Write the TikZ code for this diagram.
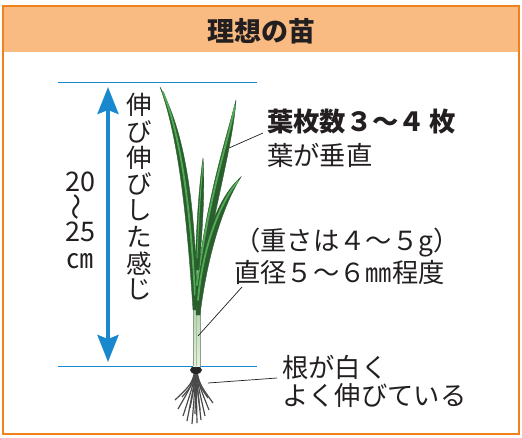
\documentclass[tikz,border=0pt]{standalone}
\usepackage{fontspec}
\newfontfamily\jp{Noto Sans CJK JP}
\usetikzlibrary{arrows.meta}
\definecolor{frameor}{HTML}{F0821E}
\definecolor{headfill}{HTML}{F9BB82}
\definecolor{measure}{HTML}{1A88CF}
\definecolor{ink}{HTML}{231F20}
\definecolor{leafdark}{HTML}{2B5E2E}
\definecolor{leaflight}{HTML}{52AC55}
\definecolor{stemfill}{HTML}{D3E6C2}
\definecolor{stemedge}{HTML}{8E9E8A}
\definecolor{rootc}{HTML}{4A4A4A}
\tikzset{
  label/.style={font=\jp\fontsize{26.3}{26.3}\selectfont, text=ink, inner sep=0pt, anchor=west},
  boldlabel/.style={label, font=\jp\bfseries\fontsize{26.3}{26.3}\selectfont},
  leader/.style={draw=ink, line width=0.7pt},
  leaf/.style={fill=leafdark, draw=leafdark, line width=0.4pt},
  vein/.style={draw=leaflight, line width=1.8pt, line cap=round},
  guide/.style={draw=measure, line width=1pt},
}
\begin{document}
\begin{tikzpicture}[x=1pt,y=-1pt]
\useasboundingbox (0,0) rectangle (522,437);
% frame and header
\fill[white] (3,6) rectangle (519,434);
\fill[headfill] (3,6) rectangle (519,52);
\draw[frameor, line width=2.5pt] (3,6) rectangle (519,434);
\node[font=\jp\bfseries\fontsize{27}{27}\selectfont, text=ink] (title) at (261,31) {理想の苗};

% height guides
\draw[guide] (58,82) -- (257,82);
\draw[guide] (58,366) -- (257,366);
\coordinate (atop) at (108,87);
\coordinate (abot) at (108,362);
\draw[measure, line width=4pt,
  {Stealth[length=27pt,width=21pt,inset=4pt]}-{Stealth[length=27pt,width=21pt,inset=4pt]}]
  (atop) -- (abot);

% height value
\begin{scope}[every node/.style={font=\jp\fontsize{27}{27}\selectfont, text=ink, inner sep=0pt}]
\node (h1) at (80,182) {20};
\node[rotate=90] (h2) at (80,207) {～};
\node (h3) at (80,232) {25};
\node[font=\jp\fontsize{27}{27}\selectfont] (h4) at (80,261) {㎝};
\end{scope}

% vertical caption
\foreach \c [count=\i] in {伸,び,伸,び,し,た,感,じ}
  \node[font=\jp\fontsize{25.5}{25.5}\selectfont, text=ink, inner sep=0pt] (v\i) at (139,79+26.3*\i) {\c};

% roots
\foreach \ex/\ey in {175/400,178/409,183/416,187/421,192/424,197/423,201/420,205/416,209/410,213/403,182/397,208/398,195/414,190/408,200/410}
  \draw[rootc, line width=1.2pt] (196,367) .. controls ({196+(\ex-196)*0.2},384) .. (\ex,\ey);
\fill[black!85] (196,370) ellipse (6pt and 4pt);

% stem
\shade[top color=leaflight!70!stemfill, bottom color=stemfill!60!white]
  (193,250) -- (200,250) -- (200,366) -- (193,366) -- cycle;
\draw[stemedge, line width=0.8pt] (193,270) -- (193,366);
\draw[stemedge, line width=0.8pt] (200,270) -- (200,366);
\draw[stemedge!70, line width=0.5pt] (196.5,300) -- (196.5,366);

% leaves
\path[leaf] (193,310) .. controls (186,200) and (176,130) .. (160,87)
            .. controls (184,130) and (196,200) .. (197,310) -- cycle;
\draw[vein] (195,295) .. controls (190,200) and (180,135) .. (163,92);
\path[leaf] (195,300) .. controls (205,200) and (226,140) .. (236,100)
            .. controls (233,145) and (213,212) .. (199,300) -- cycle;
\draw[vein] (197,285) .. controls (208,200) and (227,145) .. (235,106);
\path[leaf] (195,270) .. controls (197,210) and (200,180) .. (203,158)
            .. controls (205,185) and (203,225) .. (199,270) -- cycle;
\draw[vein, line width=1pt] (197,258) .. controls (199,210) and (201,185) .. (203,164);
\path[leaf] (196,315) .. controls (199,240) and (220,195) .. (241,177)
            .. controls (225,202) and (208,250) .. (200,315) -- cycle;
\draw[vein] (198,300) .. controls (203,245) and (220,203) .. (238,181);

% annotations
\node[boldlabel] (t1) at (267,122) {葉枚数３～４\,枚};
\node[label] (t2) at (267,155) {葉が垂直};
\node[label] (t3) at (234,243) {（重さは４～５g）};
\node[label] (t4) at (234,272) {直径５～６㎜程度};
\node[label] (t5) at (282,367) {根が白く};
\node[label] (t6) at (282,396) {よく伸びている};

% leader lines
\coordinate (l1a) at (229,148); \coordinate (l1b) at (263,133);
\coordinate (l2a) at (198,336); \coordinate (l2b) at (242,287);
\coordinate (l3a) at (208,383); \coordinate (l3b) at (277,378);
\draw[leader] (l1a) -- (l1b);
\draw[leader] (l2a) -- (l2b);
\draw[leader] (l3a) -- (l3b);
\end{tikzpicture}
\end{document}
